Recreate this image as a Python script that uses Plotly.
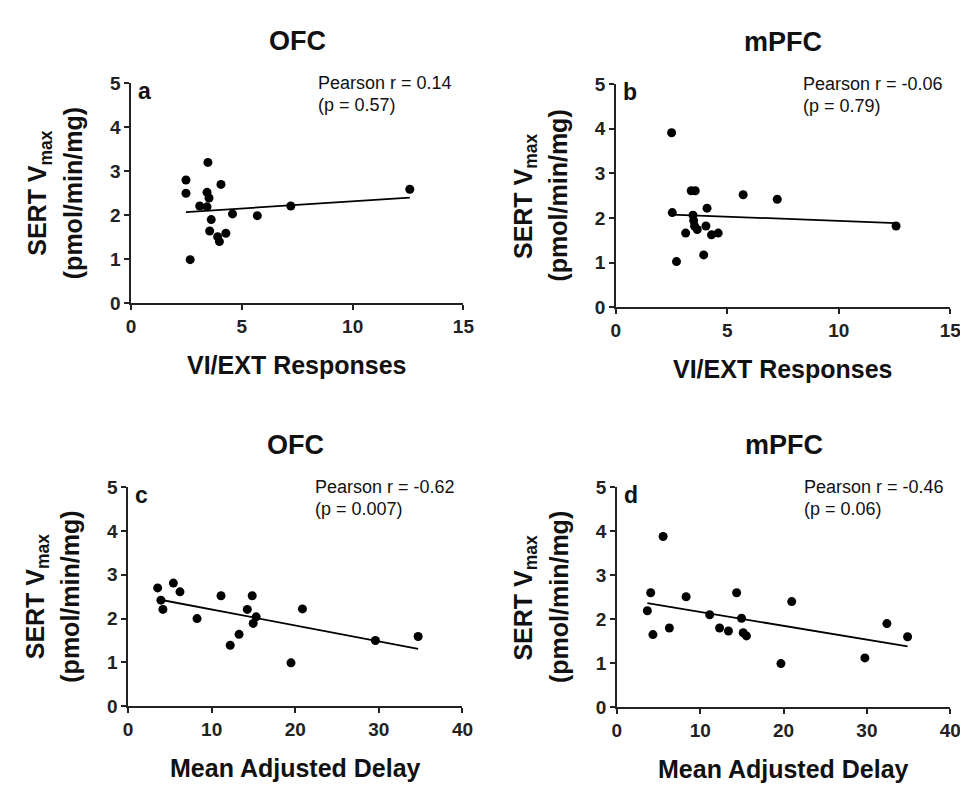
import numpy as np
import plotly.graph_objects as go

# ---------------- data ----------------
panel_titles = ["OFC", "mPFC", "OFC", "mPFC"]
panel_letters = ["a", "b", "c", "d"]
x_titles = ["VI/EXT Responses", "VI/EXT Responses", "Mean Adjusted Delay", "Mean Adjusted Delay"]
stats_r = ["Pearson r = 0.14", "Pearson r = -0.06", "Pearson r = -0.62", "Pearson r = -0.46"]
stats_p = ["(p = 0.57)", "(p = 0.79)", "(p = 0.007)", "(p = 0.06)"]

a_x = [2.48, 2.48, 2.67, 3.10, 3.43, 3.43, 3.47, 3.52, 3.55, 3.62, 3.91, 3.99, 4.06, 4.28, 4.58, 5.70, 7.21, 12.58]
a_y = [2.80, 2.50, 0.99, 2.21, 2.19, 2.52, 3.20, 2.39, 1.64, 1.90, 1.51, 1.40, 2.70, 1.59, 2.03, 1.99, 2.21, 2.59]

b_x = [2.50, 2.53, 2.72, 3.13, 3.38, 3.56, 3.46, 3.49, 3.53, 3.65, 3.94, 4.04, 4.09, 4.29, 4.59, 5.71, 7.24, 12.57]
b_y = [3.91, 2.12, 1.02, 1.66, 2.61, 2.61, 2.06, 1.94, 1.82, 1.74, 1.17, 1.82, 2.22, 1.62, 1.66, 2.52, 2.42, 1.82]

c_x = [3.54, 3.93, 4.17, 5.42, 6.21, 8.25, 11.12, 12.22, 13.28, 14.26, 14.85, 15.32, 14.97, 19.49, 20.86, 29.59, 34.70]
c_y = [2.70, 2.42, 2.21, 2.81, 2.61, 2.00, 2.52, 1.39, 1.64, 2.21, 2.52, 2.04, 1.89, 0.99, 2.22, 1.50, 1.59]

d_x = [3.66, 4.06, 4.33, 5.55, 6.30, 8.31, 11.14, 12.32, 13.39, 14.37, 14.96, 15.16, 15.55, 19.69, 20.98, 29.76, 32.40, 34.88]
d_y = [2.19, 2.60, 1.65, 3.88, 1.80, 2.51, 2.10, 1.80, 1.73, 2.60, 2.02, 1.69, 1.62, 0.99, 2.40, 1.12, 1.90, 1.60]

x_ranges = [[0, 15], [0, 15], [0, 40], [0, 40]]
x_ticks = [[0, 5, 10, 15], [0, 5, 10, 15], [0, 10, 20, 30, 40], [0, 10, 20, 30, 40]]
y_range = [0, 5]
y_ticks = [0, 1, 2, 3, 4, 5]

series = [(a_x, a_y), (b_x, b_y), (c_x, c_y), (d_x, d_y)]

# ---------------- layout geometry (pixels) ----------------
W, H = 968, 789
# (left, right, bottom(y=0), top(y=5)) in pixel coords
boxes = [(120, 458, 293, 67), (613, 953, 297, 68), (117, 457, 707, 482), (614, 953, 708, 482)]

FONT = "Arial, Liberation Sans, sans-serif"

fig = go.Figure()
annotations = []

for i, (xs, ys) in enumerate(series):
    xa = "x" if i == 0 else f"x{i+1}"
    ya = "y" if i == 0 else f"y{i+1}"
    fig.add_trace(go.Scatter(x=xs, y=ys, mode="markers", xaxis=xa, yaxis=ya,
                             marker=dict(color="black", size=9), showlegend=False,
                             hoverinfo="x+y"))
    xs_arr = np.array(xs)
    slope, intercept = np.polyfit(xs_arr, np.array(ys), 1)
    lx = np.array([xs_arr.min(), xs_arr.max()])
    fig.add_trace(go.Scatter(x=lx, y=slope * lx + intercept, mode="lines", xaxis=xa, yaxis=ya,
                             line=dict(color="black", width=1.8), showlegend=False,
                             hoverinfo="skip"))

    l, r, b, t = boxes[i]
    axis_common = dict(showgrid=False, zeroline=False, showline=True, linecolor="#222",
                       linewidth=1.5, ticks="outside", ticklen=5, tickwidth=1.5, tickcolor="#222",
                       tickfont=dict(family=FONT, size=19, color="#222", weight="bold"))
    fig.update_layout(**{
        ("xaxis" if i == 0 else f"xaxis{i+1}"): dict(
            domain=[l / W, r / W], anchor=ya, range=x_ranges[i], tickvals=x_ticks[i], **axis_common),
        ("yaxis" if i == 0 else f"yaxis{i+1}"): dict(
            domain=[1 - b / H, 1 - t / H], anchor=xa, range=y_range, tickvals=y_ticks, **axis_common),
    })

    cx = (l + r) / 2
    # panel title
    annotations.append(dict(x=cx / W, y=1 - (t - 43) / H, xref="paper", yref="paper",
                            text=panel_titles[i], showarrow=False, xanchor="center", yanchor="middle",
                            font=dict(family=FONT, size=27, color="#111", weight="bold")))
    # x-axis title
    annotations.append(dict(x=cx / W, y=1 - (b + 64) / H, xref="paper", yref="paper",
                            text=x_titles[i], showarrow=False, xanchor="center", yanchor="middle",
                            font=dict(family=FONT, size=25, color="#111", weight="bold")))
    # y-axis titles (two lines)
    ymid = 1 - ((b + t) / 2 + 0) / H
    annotations.append(dict(x=(l - 93) / W, y=ymid, xref="paper", yref="paper",
                            text="SERT V<sub>max</sub>", showarrow=False, textangle=-90,
                            xanchor="center", yanchor="middle",
                            font=dict(family=FONT, size=25, color="#111", weight="bold")))
    annotations.append(dict(x=(l - 59) / W, y=ymid, xref="paper", yref="paper",
                            text="(pmol/min/mg)", showarrow=False, textangle=-90,
                            xanchor="center", yanchor="middle",
                            font=dict(family=FONT, size=25, color="#111", weight="bold")))
    # panel letter
    annotations.append(dict(x=(l + 5) / W, y=1 - (t + 8) / H, xref="paper", yref="paper",
                            text=panel_letters[i], showarrow=False, xanchor="left", yanchor="middle",
                            font=dict(family=FONT, size=23, color="#111", weight="bold")))
    # stats text
    sx = l + 188
    annotations.append(dict(x=sx / W, y=1 - (t + 0) / H, xref="paper", yref="paper",
                            text=stats_r[i], showarrow=False, xanchor="left", yanchor="middle",
                            font=dict(family=FONT, size=18, color="#111")))
    annotations.append(dict(x=sx / W, y=1 - (t + 22) / H, xref="paper", yref="paper",
                            text=stats_p[i], showarrow=False, xanchor="left", yanchor="middle",
                            font=dict(family=FONT, size=18, color="#111")))

fig.update_layout(width=W, height=H, margin=dict(l=0, r=0, t=0, b=0),
                  paper_bgcolor="white", plot_bgcolor="white",
                  annotations=annotations, showlegend=False)

fig.write_html("out.html")
